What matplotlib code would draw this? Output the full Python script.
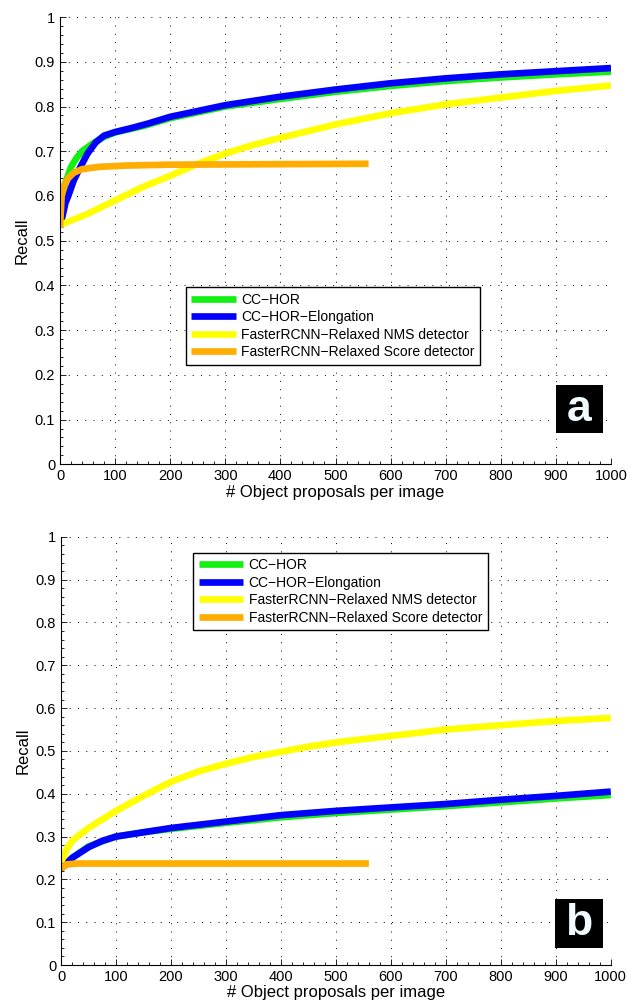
import matplotlib
matplotlib.use("Agg")
import matplotlib.pyplot as plt
from matplotlib.ticker import MultipleLocator
from matplotlib.patches import Rectangle

plt.rcParams['font.family'] = ['Liberation Sans', 'DejaVu Sans']

names = ['CC\u2212HOR', 'CC\u2212HOR\u2212Elongation',
         'FasterRCNN\u2212Relaxed NMS detector',
         'FasterRCNN\u2212Relaxed Score detector']
colors = ['#14f014', '#0000ff', '#ffff00', '#ffad00']

# panel a
a_hor_x = [0, 5, 10, 20, 30, 40, 60, 80, 100, 150, 200, 300, 400, 500, 600, 700, 800, 900, 1000]
a_hor_y = [0.53, 0.60, 0.63, 0.665, 0.685, 0.70, 0.718, 0.732, 0.742, 0.756, 0.774, 0.80, 0.817, 0.833, 0.846, 0.857, 0.865, 0.872, 0.878]
a_elo_x = [0, 10, 15, 25, 35, 50, 65, 80, 100, 130, 160, 200, 300, 400, 500, 600, 700, 800, 900, 1000]
a_elo_y = [0.53, 0.585, 0.60, 0.635, 0.66, 0.695, 0.72, 0.735, 0.743, 0.752, 0.762, 0.777, 0.803, 0.822, 0.838, 0.852, 0.863, 0.872, 0.879, 0.886]
a_nms_x = [0, 50, 100, 150, 200, 250, 300, 350, 400, 500, 600, 700, 800, 900, 1000]
a_nms_y = [0.535, 0.56, 0.59, 0.62, 0.645, 0.672, 0.695, 0.714, 0.73, 0.76, 0.785, 0.805, 0.82, 0.835, 0.847]
a_score_x = [0, 3, 8, 15, 25, 40, 70, 120, 200, 560]
a_score_y = [0.53, 0.60, 0.625, 0.64, 0.652, 0.66, 0.665, 0.668, 0.670, 0.672]

# panel b
b_hor_x = [0, 20, 50, 100, 150, 200, 300, 400, 500, 600, 700, 800, 900, 1000]
b_hor_y = [0.225, 0.25, 0.277, 0.30, 0.31, 0.318, 0.332, 0.345, 0.355, 0.363, 0.371, 0.38, 0.389, 0.397]
b_elo_x = [0, 20, 50, 75, 100, 150, 200, 300, 400, 500, 600, 700, 800, 900, 1000]
b_elo_y = [0.225, 0.25, 0.275, 0.29, 0.30, 0.31, 0.32, 0.335, 0.35, 0.36, 0.368, 0.376, 0.386, 0.395, 0.405]
b_nms_x = [0, 10, 20, 50, 100, 150, 200, 250, 300, 350, 400, 450, 500, 600, 700, 800, 900, 1000]
b_nms_y = [0.24, 0.27, 0.29, 0.32, 0.36, 0.395, 0.428, 0.452, 0.47, 0.486, 0.498, 0.51, 0.52, 0.535, 0.55, 0.56, 0.57, 0.577]
b_score_x = [0, 10, 30, 560]
b_score_y = [0.225, 0.235, 0.237, 0.237]

fig = plt.figure(figsize=(6.29, 10.05), dpi=100)
ax1 = fig.add_axes([0.0954, 0.538, 0.876, 0.445])
ax2 = fig.add_axes([0.0970, 0.0398, 0.874, 0.426])


def setup(ax, series, letter, legend_loc, box):
    for (x, y), c, n in zip(series, colors, names):
        ax.plot(x, y, color=c, lw=4.8, label=n, solid_capstyle='butt',
                solid_joinstyle='round')
    ax.set_xlim(0, 1000)
    ax.set_ylim(0, 1)
    ax.xaxis.set_major_locator(MultipleLocator(100))
    ax.yaxis.set_major_locator(MultipleLocator(0.1))
    ax.xaxis.set_minor_locator(MultipleLocator(20))
    ax.yaxis.set_minor_locator(MultipleLocator(0.02))
    ax.set_yticks(ax.get_yticks())
    ax.set_yticklabels(['0' if abs(v) < 1e-9 else ('1' if abs(v - 1) < 1e-9 else '%.1f' % v)
                        for v in ax.get_yticks()])
    ax.set_ylim(0, 1)
    ax.tick_params(direction='in', which='both', labelsize=10.5, width=0.6)
    ax.tick_params(which='major', length=4)
    ax.tick_params(which='minor', length=2)
    ax.spines['top'].set_visible(False)
    ax.spines['right'].set_visible(False)
    ax.grid(True, which='major', color='black', linestyle=(0, (1, 7.5)), lw=0.7)
    ax.set_xlabel('# Object proposals per image', fontsize=12, labelpad=1)
    ax.set_ylabel('Recall', fontsize=12, labelpad=4)
    leg = ax.legend(loc='upper left', bbox_to_anchor=legend_loc, fontsize=10,
                    fancybox=False, framealpha=1, edgecolor='black',
                    handlelength=3.2, handletextpad=0.4, borderpad=0.4,
                    labelspacing=0.25, borderaxespad=0)
    leg.get_frame().set_linewidth(1.0)
    x0, y0, x1, y1 = box
    ax.add_patch(Rectangle((x0, y0), x1 - x0, y1 - y0, transform=ax.transAxes,
                           facecolor='black', edgecolor='none', zorder=5))
    ax.text((x0 + x1) / 2, (y0 + y1) / 2, letter, transform=ax.transAxes,
            fontsize=32, fontweight='bold', color='#f0faff', ha='center',
            va='center', zorder=6)


setup(ax1, [(a_hor_x, a_hor_y), (a_elo_x, a_elo_y), (a_nms_x, a_nms_y), (a_score_x, a_score_y)],
      'a', (0.228, 0.396), (0.900, 0.069, 0.986, 0.177))
setup(ax2, [(b_hor_x, b_hor_y), (b_elo_x, b_elo_y), (b_nms_x, b_nms_y), (b_score_x, b_score_y)],
      'b', (0.24, 0.963), (0.899, 0.040, 0.985, 0.154))

fig.savefig('out.png', dpi=100)
